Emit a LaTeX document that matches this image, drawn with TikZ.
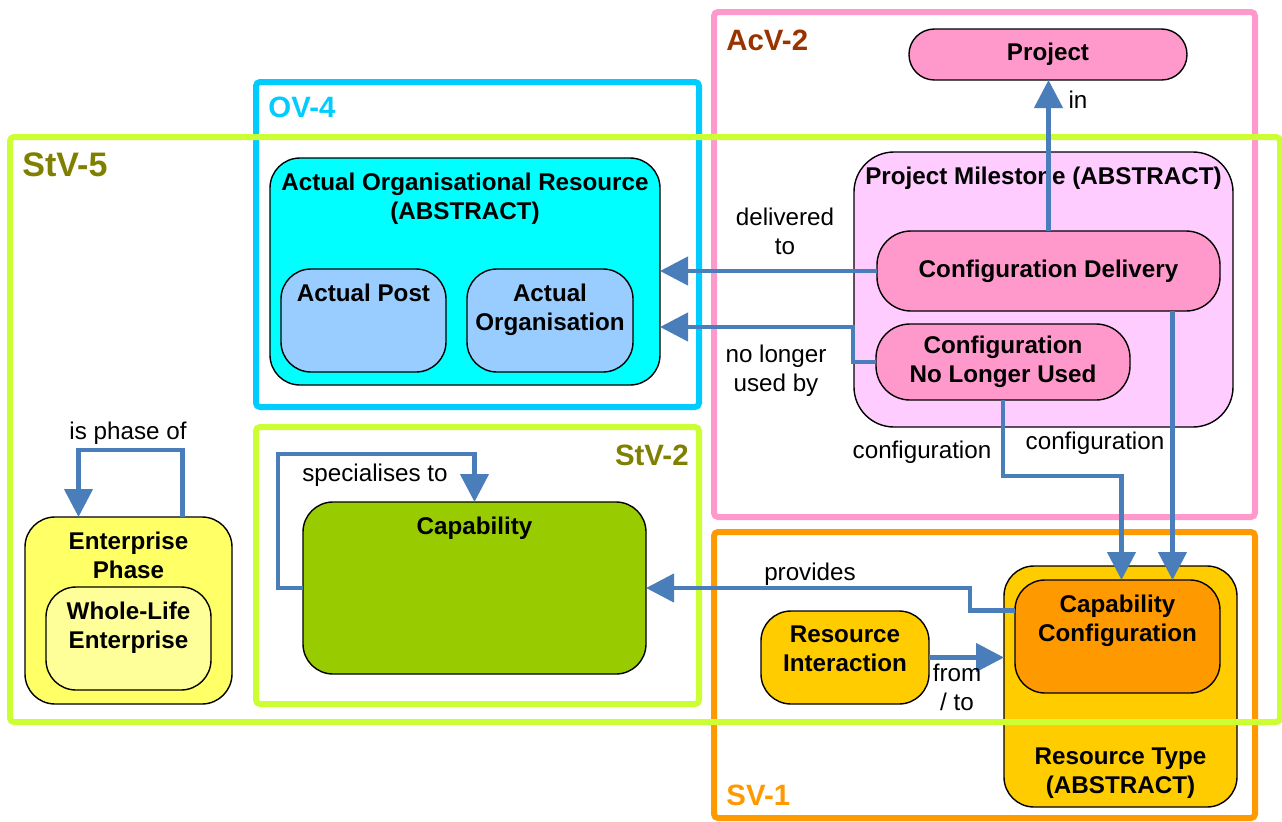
\documentclass[tikz,border=0pt]{standalone}
\usepackage{fontspec}
\setmainfont{Liberation Sans}
\usetikzlibrary{arrows.meta,positioning}

\definecolor{stvgreen}{HTML}{CCFF33}
\definecolor{stvolive}{HTML}{808000}
\definecolor{ovcyan}{HTML}{00CCFF}
\definecolor{acvpink}{HTML}{FF99CC}
\definecolor{acvbrown}{HTML}{993300}
\definecolor{svorange}{HTML}{FF9900}
\definecolor{relblue}{HTML}{4A7EBB}
\definecolor{milestonefill}{HTML}{FFCCFF}
\definecolor{aorfill}{HTML}{00FFFF}
\definecolor{actualfill}{HTML}{99CCFF}
\definecolor{capfill}{HTML}{99CC00}
\definecolor{phasefill}{HTML}{FFFF66}
\definecolor{wholefill}{HTML}{FFFF99}
\definecolor{restypefill}{HTML}{FFCC00}
\definecolor{capconffill}{HTML}{FF9900}

\newcommand{\framethick}{3pt}
\newcommand{\relthick}{2.2pt}
\newcommand{\boxround}{15pt}
\newcommand{\titlegap}{6.3pt}
\newcommand{\nodefont}{\fontsize{12.1}{14.5}\selectfont}
\newcommand{\viewfont}{\fontsize{14.7}{17}\selectfont\bfseries}
\newcommand{\bigviewfont}{\fontsize{17}{19}\selectfont\bfseries}

\begin{document}
\begin{tikzpicture}[x=0.5pt,y=-0.5pt,font=\nodefont]

%% styles
\tikzstyle{frame}=[line width=\framethick,rounded corners=2pt]
\tikzstyle{box}=[draw,line width=0.7pt,rounded corners=\boxround,inner sep=0pt,outer sep=0pt,font=\nodefont\bfseries,align=center]
\tikzstyle{boxtitle}=[inner sep=1pt,font=\nodefont\bfseries,align=center]
\tikzstyle{viewname}=[inner sep=0pt,font=\viewfont,anchor=west]
\tikzstyle{rel}=[draw=relblue,line width=\relthick,-{Triangle[width=14pt,length=14pt]}]
\tikzstyle{rellabel}=[inner sep=1pt,align=center]

\useasboundingbox (0,0) rectangle (1282,821);

%% view frames (StV-5 comes later, it lies over the boxes)
\draw[frame,draw=ovcyan] (256,82) rectangle (699,407);
\draw[frame,draw=stvgreen] (256,427) rectangle (699,704);
\draw[frame,draw=acvpink] (714,12) rectangle (1255,517);
\draw[frame,draw=svorange] (714,532) rectangle (1255,818);

%% view names
\node (stvfive) [viewname,text=stvolive,font=\bigviewfont] at (22,165) {StV-5};
\node (ovfour) [viewname,text=ovcyan] at (268,107) {OV-4};
\node (stvtwo) [viewname,text=stvolive,anchor=east] at (689,455) {StV-2};
\node (acvtwo) [viewname,text=acvbrown] at (726,40) {AcV-2};
\node (svone) [viewname,text=svorange] at (726,795) {SV-1};

%% AcV-2 boxes
\node (project) [box,fill=acvpink,minimum width=139pt,minimum height=25.5pt,rounded corners=12.7pt] at (1048,54.5) {Project};
\node (milestone) [box,fill=milestonefill,minimum width=189.5pt,minimum height=137.5pt,rounded corners=20pt] at (1043.5,289.5) {};
\node (milestonetitle) [boxtitle,below=\titlegap of milestone.north] {Project Milestone (ABSTRACT)};
\node (confdeliv) [box,fill=acvpink,minimum width=171.5pt,minimum height=40pt,rounded corners=17pt] at (1048.5,271) {Configuration Delivery};
\node (confnlu) [box,fill=acvpink,minimum width=127pt,minimum height=38pt,rounded corners=17pt] at (1003,362) {Configuration\\No Longer Used};

%% OV-4 boxes
\node (aor) [box,fill=aorfill,minimum width=195pt,minimum height=113.5pt] at (465,271.5) {};
\node (aortitle) [boxtitle,below=\titlegap of aor.north] {Actual Organisational Resource\\(ABSTRACT)};
\node (post) [box,fill=actualfill,minimum width=82.5pt,minimum height=51.5pt] at (363.5,320.5) {};
\node (posttitle) [boxtitle,below=\titlegap of post.north] {Actual Post};
\node (org) [box,fill=actualfill,minimum width=83pt,minimum height=51.5pt] at (550,320.5) {};
\node (orgtitle) [boxtitle,below=\titlegap of org.north] {Actual\\Organisation};

%% StV-2 box
\node (capability) [box,fill=capfill,minimum width=171.5pt,minimum height=86pt] at (474.5,588) {};
\node (capabilitytitle) [boxtitle,below=\titlegap of capability.north] {Capability};

%% StV-5 boxes
\node (entphase) [box,fill=phasefill,minimum width=103.5pt,minimum height=93.5pt] at (128.5,610.5) {};
\node (entphasetitle) [boxtitle,below=\titlegap of entphase.north] {Enterprise\\Phase};
\node (wholelife) [box,fill=wholefill,minimum width=82.5pt,minimum height=51.5pt] at (128.5,638.5) {};
\node (wholelifetitle) [boxtitle,below=\titlegap of wholelife.north] {Whole-Life\\Enterprise};

%% SV-1 boxes
\node (restype) [box,fill=restypefill,minimum width=116.5pt,minimum height=120.5pt] at (1120.5,686.5) {};
\node (restypetitle) [boxtitle,above=3pt of restype.south] {Resource Type\\(ABSTRACT)};
\node (capconf) [box,fill=capconffill,minimum width=102.5pt,minimum height=56.5pt] at (1117.5,636.5) {};
\node (capconftitle) [boxtitle,below=\titlegap of capconf.north] {Capability\\Configuration};
\node (resint) [box,fill=restypefill,minimum width=84pt,minimum height=46.5pt] at (845,657.5) {};
\node (resinttitle) [boxtitle,below=\titlegap of resint.north] {Resource\\Interaction};

%% StV-5 frame, over the boxes
\draw[frame,draw=stvgreen] (10,137) rectangle (1280,722);

%% relationships
\draw[rel] (confdeliv.north) -- (confdeliv.north |- project.south);
\draw[rel] (confdeliv.west) -- (confdeliv.west -| aor.east);
\draw[rel] (confnlu.west) -- ++(-23,0) |- ([yshift=-27.75pt]aor.east);
\draw[rel] (confnlu.south) -- ++(0,76) -| ([xshift=2pt]capconf.north);
\coordinate (cdout) at ([xshift=62pt]confdeliv.south);
\draw[rel] (cdout) -- (cdout |- capconf.north);
\draw[rel] ([yshift=13pt]capconf.west) -- ++(-45,0) |- (capability.east);
\draw[rel] (resint.east) -- (resint.east -| restype.west);
\draw[rel] ([xshift=27pt]entphase.north) -- ++(0,-67) -| ([xshift=-25pt]entphase.north);
\draw[rel] (capability.west) -- ++(-25,0) |- ([yshift=24pt]capability.north) -- (capability.north);

%% relationship names
\node (inlabel) [rellabel] at (1078,100) {in};
\node (deliveredlabel) [rellabel] at (785,231.5) {delivered\\to};
\node (nolongerlabel) [rellabel] at (776,371) {no longer\\used by};
\node (conflabelone) [rellabel] at (922,452) {configuration};
\node (conflabeltwo) [rellabel] at (1095,443) {configuration};
\node (provideslabel) [rellabel] at (810,574) {provides};
\node (fromtolabel) [rellabel] at (957,687.5) {from\\/ to};
\node (phaselabel) [rellabel] at (128,433) {is phase of};
\node (specialiselabel) [rellabel] at (375,475) {specialises to};

\end{tikzpicture}
\end{document}
